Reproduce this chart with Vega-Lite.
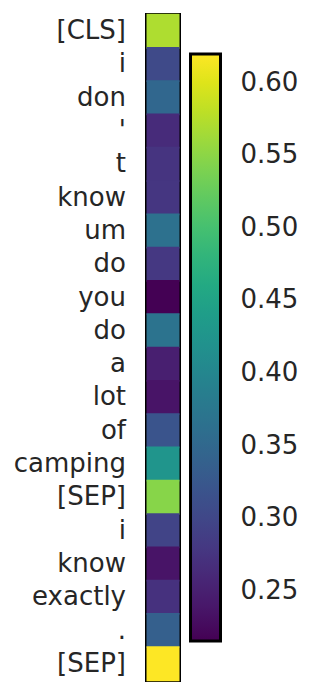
{
  "$schema": "https://vega.github.io/schema/vega-lite/v6.json",
  "width": 33,
  "height": 666,
  "autosize": {"type": "none"},
  "padding": {"left": 146.5, "top": 14.5, "right": 135.5, "bottom": 13.5},
  "background": "white",
  "config": {"view": {"stroke": "black", "strokeWidth": 3}, "font": "DejaVu Sans"},
  "data": {"values": [
    {"key": "01|[CLS]", "value": 0.571},
    {"key": "02|i", "value": 0.304},
    {"key": "03|don", "value": 0.349},
    {"key": "04|'", "value": 0.264},
    {"key": "05|t", "value": 0.276},
    {"key": "06|know", "value": 0.278},
    {"key": "07|um", "value": 0.365},
    {"key": "08|do", "value": 0.280},
    {"key": "09|you", "value": 0.2155},
    {"key": "10|do", "value": 0.369},
    {"key": "11|a", "value": 0.248},
    {"key": "12|lot", "value": 0.236},
    {"key": "13|of", "value": 0.320},
    {"key": "14|camping", "value": 0.426},
    {"key": "15|[SEP]", "value": 0.547},
    {"key": "16|i", "value": 0.296},
    {"key": "17|know", "value": 0.236},
    {"key": "18|exactly", "value": 0.272},
    {"key": "19|.", "value": 0.337},
    {"key": "20|[SEP]", "value": 0.6197}
  ]},
  "mark": {"type": "rect", "height": {"band": 1.05}},
  "encoding": {
    "y": {
      "field": "key",
      "type": "ordinal",
      "sort": "ascending",
      "scale": {"paddingInner": 0, "paddingOuter": 0},
      "axis": {
        "title": null,
        "ticks": false,
        "domain": false,
        "labelExpr": "substring(datum.value, 3)",
        "labelFontSize": 26,
        "labelColor": "#262626",
        "labelFont": "DejaVu Sans",
        "labelPadding": 21
      }
    },
    "color": {
      "field": "value",
      "type": "quantitative",
      "scale": {"scheme": "viridis", "domain": [0.2155, 0.6197]},
      "legend": {
        "orient": "none",
        "legendX": 44,
        "legendY": 39.5,
        "direction": "vertical",
        "title": null,
        "padding": 0,
        "gradientLength": 587,
        "gradientThickness": 30,
        "gradientStrokeColor": "black",
        "gradientStrokeWidth": 3,
        "values": [0.25, 0.3, 0.35, 0.4, 0.45, 0.5, 0.55, 0.6],
        "format": ".2f",
        "labelOverlap": false,
        "labelFontSize": 26,
        "labelColor": "#262626",
        "labelFont": "DejaVu Sans",
        "labelOffset": 20
      }
    }
  }
}
